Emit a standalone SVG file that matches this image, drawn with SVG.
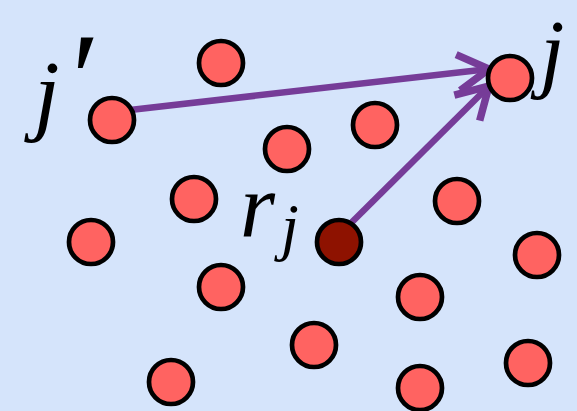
<svg xmlns="http://www.w3.org/2000/svg" width="577" height="411" viewBox="0 0 577 411">
<style>
.pt{fill:#ff6361;stroke:#000;stroke-width:4.7}
.dk{fill:#8e1200;stroke:#000;stroke-width:4.7}
.lbl{font-family:"Liberation Serif",serif;font-style:italic;fill:#000}
.arr{stroke:#763c98;stroke-width:6.5;fill:none;marker-end:url(#ah)}
</style>
<defs>
<marker id="ah" markerUnits="userSpaceOnUse" markerWidth="60" markerHeight="60" viewBox="-45 -30 60 60" refX="0" refY="0" orient="auto" overflow="visible">
<path d="M-31,-18 L0,0 L-31,18" fill="none" stroke="#763c98" stroke-width="7.5" stroke-linejoin="miter"/>
</marker>
</defs>
<rect width="577" height="411" fill="#d5e4fb"/>
<g id="connectors">
<line class="arr" x1="130" y1="110" x2="489" y2="69"/>
<line class="arr" x1="345" y1="229" x2="489" y2="86"/>
</g>
<g id="n-jprime"><circle class="pt" cx="112" cy="120" r="22"/></g>
<g id="n-j"><circle class="pt" cx="510" cy="78" r="22"/></g>
<g id="n-rj"><circle class="dk" cx="339" cy="242" r="22"/></g>
<g id="n1"><circle class="pt" cx="221" cy="63" r="22"/></g>
<g id="n2"><circle class="pt" cx="287" cy="149" r="22"/></g>
<g id="n3"><circle class="pt" cx="375" cy="125" r="22"/></g>
<g id="n4"><circle class="pt" cx="194" cy="199" r="22"/></g>
<g id="n5"><circle class="pt" cx="457" cy="201" r="22"/></g>
<g id="n6"><circle class="pt" cx="91" cy="242" r="22"/></g>
<g id="n7"><circle class="pt" cx="537" cy="255" r="22"/></g>
<g id="n8"><circle class="pt" cx="221" cy="287" r="22"/></g>
<g id="n9"><circle class="pt" cx="420" cy="297" r="22"/></g>
<g id="n10"><circle class="pt" cx="314" cy="345" r="22"/></g>
<g id="n11"><circle class="pt" cx="528" cy="363" r="22"/></g>
<g id="n12"><circle class="pt" cx="171" cy="382" r="22"/></g>
<g id="n13"><circle class="pt" cx="420" cy="388" r="22"/></g>
<g id="labels">
<text class="lbl" x="34" y="124" font-size="92">j<tspan font-size="130" dx="4" dy="-2">′</tspan></text>
<text class="lbl" x="540" y="81" font-size="88">j</text>
<text class="lbl" x="240" y="236" font-size="90">r<tspan font-size="64" dx="6" dy="12">j</tspan></text>
</g>
</svg>
